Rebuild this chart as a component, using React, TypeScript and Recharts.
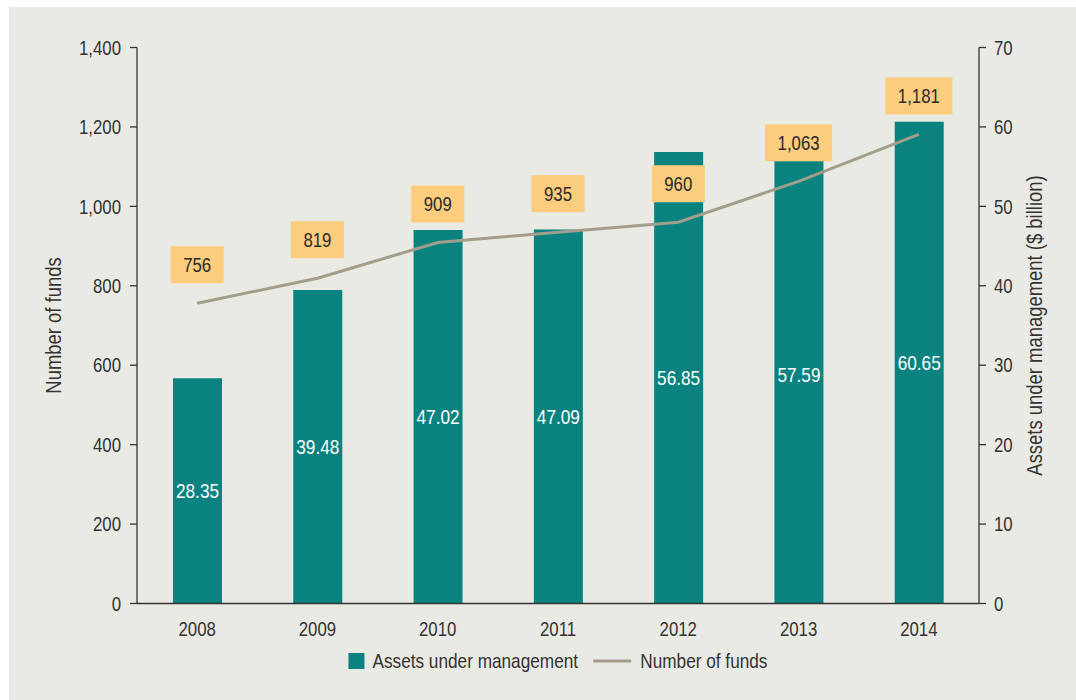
import { ComposedChart, Bar, Line, XAxis, YAxis, Legend, LabelList, Label } from 'recharts'

const years = ['2008', '2009', '2010', '2011', '2012', '2013', '2014']
const assets = [28.35, 39.48, 47.02, 47.09, 56.85, 57.59, 60.65]
const funds = [756, 819, 909, 935, 960, 1063, 1181]
const fundsTicks = [0, 200, 400, 600, 800, 1000, 1200, 1400]
const assetsTicks = [0, 10, 20, 30, 40, 50, 60, 70]
const yearBoundaries = [0, 1, 2, 3, 4, 5, 6, 7]

const chartData = years.map((year, i) => ({ year, assets: assets[i], funds: funds[i] }))

// no condensed face installed, so Liberation Sans is squeezed horizontally
const FONT = "'Liberation Sans', Arial, sans-serif"
const SX = 0.82
const TEAL = '#098280'
const LINE = '#a29e8b'
const BOX = '#fccd7c'
const INK = '#333333'
const PANEL = '#eaeae5'

let canvas: HTMLCanvasElement | null = null
const measure = (text: string, size: number) => {
  if (!canvas) canvas = document.createElement('canvas')
  const ctx = canvas.getContext('2d')
  if (!ctx) return text.length * size * 0.46
  ctx.font = `${size}px ${FONT}`
  return ctx.measureText(text).width * SX
}

const fmt = (v: any) => (typeof v === 'number' ? v.toLocaleString('en-US') : v)

const NarrowText = ({ x, y, anchor = 'middle', size, fill = INK, dy = '0.355em', angle = 0, children }: any) => (
  <g transform={`translate(${x},${y}) rotate(${angle}) scale(${SX},1)`}>
    <text x={0} y={0} dy={dy} textAnchor={anchor} fontFamily={FONT} fontSize={size} fill={fill}>
      {children}
    </text>
  </g>
)

const AxisTick = (props: any) => {
  const { x, y, payload, textAnchor, verticalAnchor } = props
  const dy = verticalAnchor === 'start' ? '0.71em' : verticalAnchor === 'end' ? '0' : '0.355em'
  return (
    <NarrowText x={x} y={y} anchor={textAnchor} dy={dy} size={20.5}>
      {fmt(payload.value)}
    </NarrowText>
  )
}

const AxisTitle = (props: any) => {
  const { viewBox, value, offset } = props
  return (
    <NarrowText x={viewBox.x + offset} y={viewBox.y + viewBox.height / 2} angle={-90} size={22.5}>
      {value}
    </NarrowText>
  )
}

const BarValue = (props: any) => {
  const { x, y, width, height, value } = props
  return (
    <NarrowText x={x + width / 2} y={y + height / 2} size={21} fill="#ffffff">
      {Number(value).toFixed(2)}
    </NarrowText>
  )
}

// orange call-out box above each point of the line
const FundsLabel = (props: any) => {
  const { x, y, value } = props
  const text = Number(value).toLocaleString('en-US')
  const w = measure(text, 20.5) + 25
  const h = 37
  const cy = y - 38.5
  return (
    <g>
      <rect x={x - w / 2} y={cy - h / 2} width={w} height={h} fill={BOX} />
      <NarrowText x={x} y={cy} size={20.5} fill="#2a2a2a">
        {text}
      </NarrowText>
    </g>
  )
}

const LegendContent = () => {
  const a = 'Assets under management'
  const b = 'Number of funds'
  const wa = measure(a, 21)
  const wb = measure(b, 21)
  const total = 16 + 8 + wa + 15 + 38 + 9 + wb
  const x0 = (842 - total) / 2
  const xb = x0 + 16 + 8 + wa + 15
  return (
    <svg width={842} height={26} style={{ display: 'block' }}>
      <rect x={x0} y={5} width={16} height={16} fill={TEAL} />
      <NarrowText x={x0 + 24} y={13} anchor="start" size={21}>
        {a}
      </NarrowText>
      <rect x={xb} y={11.5} width={38} height={3} fill={LINE} />
      <NarrowText x={xb + 47} y={13} anchor="start" size={21}>
        {b}
      </NarrowText>
    </svg>
  )
}

const axisStroke = { stroke: INK, strokeWidth: 1.3 }

export default function App() {
  return (
    <div style={{ position: 'absolute', left: 0, top: 0, width: 1076, height: 700, background: '#fff' }}>
      <div style={{ position: 'absolute', left: 9, top: 7, width: 1067, height: 693, background: PANEL, fontFamily: FONT }}>
        <ComposedChart
          width={1067}
          height={693}
          data={chartData}
          margin={{ top: 40.5, right: 0, left: 0, bottom: 26 }}
        >
          {/* boundary tick marks between years */}
          <XAxis
            type="number"
            domain={[0, 7]}
            ticks={yearBoundaries}
            tick={false}
            tickSize={7}
            height={7}
            axisLine={axisStroke}
            tickLine={axisStroke}
          />
          <XAxis
            xAxisId="cat"
            dataKey="year"
            height={37.5}
            axisLine={false}
            tickLine={false}
            tickSize={0}
            tickMargin={11}
            tick={<AxisTick />}
          />
          <YAxis
            yAxisId="funds"
            width={128}
            domain={[0, 1400]}
            ticks={fundsTicks}
            tick={<AxisTick />}
            tickSize={7}
            tickMargin={9}
            axisLine={axisStroke}
            tickLine={axisStroke}
          >
            <Label value="Number of funds" offset={44} content={<AxisTitle />} />
          </YAxis>
          <YAxis
            yAxisId="aum"
            orientation="right"
            width={97}
            domain={[0, 70]}
            ticks={assetsTicks}
            tick={<AxisTick />}
            tickSize={7}
            tickMargin={8}
            axisLine={axisStroke}
            tickLine={axisStroke}
          >
            <Label value="Assets under management ($ billion)" offset={55.5} content={<AxisTitle />} />
          </YAxis>
          <Legend verticalAlign="bottom" content={<LegendContent />} wrapperStyle={{ left: 128, width: 842 }} />
          <Bar
            xAxisId="cat"
            yAxisId="aum"
            dataKey="assets"
            name="Assets under management"
            fill={TEAL}
            barSize={49}
            isAnimationActive={false}
          >
            <LabelList dataKey="assets" content={<BarValue />} />
          </Bar>
          <Line
            xAxisId="cat"
            yAxisId="funds"
            type="linear"
            dataKey="funds"
            name="Number of funds"
            stroke={LINE}
            strokeWidth={3}
            dot={false}
            activeDot={false}
            isAnimationActive={false}
          >
            <LabelList dataKey="funds" content={<FundsLabel />} />
          </Line>
        </ComposedChart>
      </div>
    </div>
  )
}
